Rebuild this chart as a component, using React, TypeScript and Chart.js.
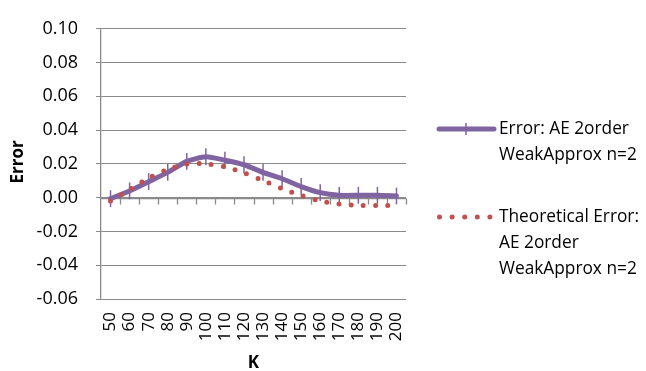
import { useEffect, useRef } from 'react';
import { Chart, registerables } from 'chart.js';

Chart.register(...registerables);

// Category labels along the K axis
const kValues = ['50', '60', '70', '80', '90', '100', '110', '120', '130', '140', '150', '160', '170', '180', '190', '200'];

// Measured error and its +/- error bar half-width
const errorValues = [-0.0006, 0.004, 0.0095, 0.015, 0.0215, 0.0242, 0.0222, 0.0195, 0.015, 0.0112, 0.0066, 0.003, 0.0014, 0.0014, 0.0014, 0.001];
const errorBarHalf = [0.005, 0.005, 0.005, 0.005, 0.005, 0.005, 0.005, 0.005, 0.005, 0.005, 0.005, 0.005, 0.005, 0.005, 0.005, 0.005];

// Theoretical error curve
const theoreticalValues = [-0.002, 0.0048, 0.0116, 0.0168, 0.0199, 0.02, 0.0182, 0.0147, 0.0102, 0.0054, 0.0013, -0.0019, -0.0038, -0.0045, -0.0046, -0.0046];

// Value axis range
const yMin = -0.06;
const yMax = 0.1;
const yStep = 0.02;

// Legend entries, already broken into lines
const errorLegend = ['Error: AE 2order', 'WeakApprox n=2'];
const theoreticalLegend = ['Theoretical Error:', 'AE 2order', 'WeakApprox n=2'];

const PURPLE = '#8064A2';
const RED = '#C0504D';
const GRID = '#8a8a8a';
const FONT = '"Open Sans", Lato, sans-serif';

export default function App() {
  const canvasRef = useRef<HTMLCanvasElement>(null);

  useEffect(() => {
    const canvas = canvasRef.current;
    if (!canvas) return;

    // Error bars, drawn right after the measured series so the dotted line sits on top
    const errorBarPlugin = {
      id: 'errorBars',
      afterDatasetDraw(chart: any, args: any) {
        if (args.index !== 0) return;
        const { ctx, scales } = chart;
        const x = scales.x;
        const y = scales.y;
        ctx.save();
        ctx.strokeStyle = PURPLE;
        ctx.lineWidth = 1.5;
        errorValues.forEach((v, i) => {
          const px = x.getPixelForValue(i);
          ctx.beginPath();
          ctx.moveTo(px, y.getPixelForValue(v - errorBarHalf[i]));
          ctx.lineTo(px, y.getPixelForValue(v + errorBarHalf[i]));
          ctx.stroke();
        });
        ctx.restore();
      },
    };

    // Horizontal axis crossing at zero with tick marks between categories
    const zeroAxisPlugin = {
      id: 'zeroAxis',
      beforeDatasetsDraw(chart: any) {
        const { ctx, scales, chartArea } = chart;
        const x = scales.x;
        const y0 = Math.round(scales.y.getPixelForValue(0)) + 0.5;
        const w = x.width / kValues.length;
        ctx.save();
        ctx.strokeStyle = GRID;
        ctx.lineWidth = 1.3;
        ctx.beginPath();
        ctx.moveTo(chartArea.left, y0);
        ctx.lineTo(chartArea.right, y0);
        for (let i = 1; i <= kValues.length; i++) {
          const px = Math.round(x.getPixelForValue(i - 1) + w / 2) + 0.5;
          ctx.moveTo(px, y0);
          ctx.lineTo(px, y0 + 6);
        }
        ctx.stroke();
        ctx.restore();
      },
    };

    // Axis titles and the two-entry legend on the right
    const annotationsPlugin = {
      id: 'annotations',
      afterDraw(chart: any) {
        const { ctx, chartArea } = chart;
        ctx.save();
        ctx.fillStyle = '#000';
        ctx.font = `bold 17px ${FONT}`;
        ctx.textAlign = 'center';
        ctx.textBaseline = 'middle';
        ctx.fillText('K', (chartArea.left + chartArea.right) / 2, 363);
        ctx.save();
        ctx.translate(18, (chartArea.top + chartArea.bottom) / 2 - 2);
        ctx.rotate(-Math.PI / 2);
        ctx.fillText('Error', 0, 0);
        ctx.restore();

        // Measured series key
        ctx.strokeStyle = PURPLE;
        ctx.lineCap = 'round';
        ctx.lineWidth = 5;
        ctx.beginPath();
        ctx.moveTo(439, 129);
        ctx.lineTo(494, 129);
        ctx.stroke();
        ctx.lineWidth = 1.5;
        ctx.lineCap = 'butt';
        ctx.beginPath();
        ctx.moveTo(466, 123);
        ctx.lineTo(466, 135);
        ctx.stroke();

        // Theoretical series key
        ctx.fillStyle = RED;
        for (let i = 0; i < 5; i++) {
          ctx.beginPath();
          ctx.arc(439.5 + i * 12.6, 217, 2.5, 0, Math.PI * 2);
          ctx.fill();
        }

        ctx.fillStyle = '#000';
        ctx.font = `17.3px ${FONT}`;
        ctx.textAlign = 'left';
        errorLegend.forEach((t, i) => ctx.fillText(t, 499, 129 + i * 26));
        theoreticalLegend.forEach((t, i) => ctx.fillText(t, 499, 217 + i * 25.8));
        ctx.restore();
      },
    };

    const chart = new Chart(canvas, {
      type: 'line',
      data: {
        labels: kValues,
        datasets: [
          {
            label: 'Error: AE 2order WeakApprox n=2',
            data: errorValues,
            borderColor: PURPLE,
            borderWidth: 5,
            borderJoinStyle: 'round',
            borderCapStyle: 'round',
            pointRadius: 0,
            tension: 0.2,
            order: 1,
          },
          {
            label: 'Theoretical Error: AE 2order WeakApprox n=2',
            data: theoreticalValues,
            borderColor: RED,
            borderWidth: 5,
            borderCapStyle: 'round',
            borderDash: [0, 12.2],
            pointRadius: 0,
            tension: 0.3,
            order: 0,
          },
        ],
      },
      options: {
        animation: false,
        responsive: false,
        maintainAspectRatio: false,
        layout: { padding: { left: 0, top: 17, right: 240, bottom: 0 } },
        plugins: {
          legend: { display: false },
          tooltip: { enabled: false },
        },
        scales: {
          x: {
            type: 'category',
            offset: true,
            grid: { display: false, drawTicks: false },
            border: { display: false },
            ticks: {
              autoSkip: false,
              minRotation: 90,
              maxRotation: 90,
              padding: 13,
              color: '#000',
              font: { family: FONT, size: 17 },
            },
            afterFit(scale: any) {
              scale.height = 72;
            },
          },
          y: {
            min: yMin,
            max: yMax,
            grid: { color: GRID, lineWidth: 1, tickLength: 5, drawTicks: true },
            border: { color: GRID, width: 1.3 },
            ticks: {
              stepSize: yStep,
              padding: 18,
              color: '#000',
              font: { family: FONT, size: 18 },
              callback: (v: any) => Number(v).toFixed(2),
            },
            afterFit(scale: any) {
              scale.width = 101;
            },
          },
        },
      },
      plugins: [zeroAxisPlugin, errorBarPlugin, annotationsPlugin],
    });

    return () => chart.destroy();
  }, []);

  return (
    <div style={{ position: 'fixed', left: 0, top: 0, width: 646, height: 371, background: '#fff' }}>
      <canvas ref={canvasRef} width={646} height={371} style={{ width: 646, height: 371 }} />
    </div>
  );
}
